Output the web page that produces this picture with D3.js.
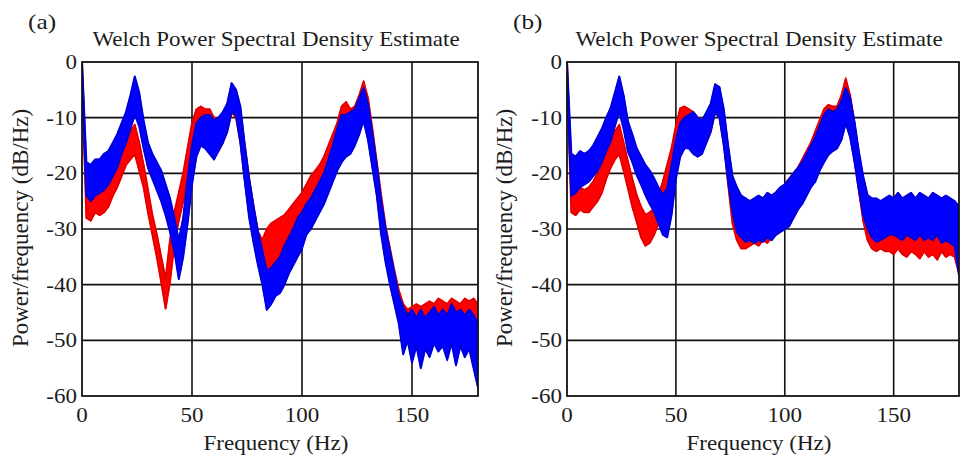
<!DOCTYPE html>
<html>
<head>
<meta charset="utf-8">
<title>Welch PSD</title>
<style>
  body { margin: 0; background: #fff; }
  text { font-family: "Liberation Serif", "Times New Roman", serif; fill: #1c1c1c; }
</style>
</head>
<body>
<div id="chart"></div>
<script src="https://d3js.org/d3.v7.min.js"></script>
<script>
// frequency bins, 2 Hz apart
const freqs = d3.range(0, 181, 2);
const xTicks = [0, 50, 100, 150];
const yTicks = [0, -10, -20, -30, -40, -50, -60];
const titleText = "Welch Power Spectral Density Estimate";

// panel (a): upper / lower edge of each bundle of traces (dB/Hz)
const aBlueHi = [0, -18, -18.5, -17.5, -17.5, -16.5, -16, -14.5, -13, -11,
  -9, -6, -2.6, -5.5, -10.5, -14.5, -16.5, -18, -19.5, -22,
  -24.5, -28, -32, -28, -21, -15, -11, -10, -9.5, -9.5,
  -10.5, -10, -9, -7.5, -3.8, -5, -8, -15, -21, -26,
  -30.5, -34, -37.5, -37, -36, -35, -33, -31.5, -30, -28,
  -27, -25.5, -24.5, -23, -21.5, -20, -17.5, -15, -12, -9.5,
  -9.5, -9, -8.5, -6.5, -4.7, -7.5, -13, -18.5, -25, -30,
  -34, -38, -42, -44, -45.5, -44.5, -46, -44.5, -46, -45,
  -44, -45.5, -44.5, -45.5, -43.5, -45, -44.5, -45.5, -44.5, -45.5,
  -47];
const aBlueLo = [-3, -24, -25, -24, -23.5, -23, -22, -20.5, -19, -16.5,
  -14.5, -12, -9.5, -11.5, -15.5, -19, -21, -23, -25, -27.5,
  -30.5, -34, -39, -35, -29, -22, -17, -15, -15.5, -16.5,
  -17.5, -16, -14.5, -12.5, -9, -9.5, -14.5, -21.5, -28, -32.5,
  -36.5, -40, -44.5, -43.5, -42, -41.5, -40, -38, -36.5, -35,
  -33.5, -31, -30, -28.5, -27, -25.5, -23.5, -21.5, -19.5, -18,
  -17, -16.5, -15, -13, -10.5, -14, -19, -24, -31, -36,
  -40, -43.5, -47, -52.5, -50, -54, -51, -55, -51.5, -53,
  -50.5, -52, -51, -53.5, -50.5, -54.5, -51, -53, -51.5, -55,
  -58.5];
const aRedHi = [0, -22, -23, -22, -22.5, -21.5, -20.5, -19, -17.5, -15.5,
  -14, -12.5, -11.3, -14.5, -18.5, -23, -27.5, -31, -35, -39,
  -32, -27, -23.5, -20, -15.5, -11, -8.5, -8, -8.5, -8.5,
  -10, -10.5, -9.5, -8, -4.5, -5, -9, -15, -21, -26,
  -30.5, -32, -30, -29, -28.5, -28, -27.5, -26.5, -25.5, -24.5,
  -23.5, -22, -20.5, -19.5, -18.5, -17, -15, -13, -11, -8,
  -7.2, -8.5, -8, -6, -3.5, -6.5, -12, -18, -24, -29.5,
  -33.5, -37.5, -41, -43.5, -44.5, -44, -43.5, -44, -43.5, -43,
  -43.5, -42.5, -43, -43.5, -42.5, -43, -43.5, -42.5, -43, -42.5,
  -43.5];
const aRedLo = [-3, -28, -28.5, -27, -27.5, -27, -26, -24, -22.5, -20.5,
  -18.5, -17.5, -16.5, -19.5, -22.5, -27, -31, -35, -39.5, -44.3,
  -39.5, -32.5, -28.5, -25, -20.5, -16, -12.5, -12, -13, -14.5,
  -15.5, -16, -14.5, -12.5, -9, -10, -14.5, -21, -27, -32,
  -36, -38.5, -39, -37, -36, -35, -34, -32.5, -31.5, -30.5,
  -29.5, -28, -26.5, -25, -24, -23, -21, -19.5, -18, -15,
  -14, -15, -14, -12, -9, -12.5, -18, -23.5, -30, -35,
  -39, -43, -46, -49, -49.5, -49, -48.5, -49, -48, -48.5,
  -49, -48, -47.5, -48.5, -49, -50.5, -49, -48.5, -51, -49,
  -50];

// panel (b)
const bBlueHi = [0, -16.5, -17, -16, -16.5, -16, -15, -13.5, -12, -10,
  -8.3, -5.5, -2.6, -6, -10.7, -13, -15.5, -17, -18.5, -19.5,
  -20.9, -22.5, -23.9, -22.7, -18.5, -14, -11, -10, -9.5, -9,
  -10, -10.5, -9, -7.5, -4, -4.5, -8.5, -15, -20.5, -22.5,
  -24, -24.5, -25, -24.5, -24, -24.5, -23.5, -24, -23.4, -22.5,
  -22, -21, -20, -19, -18, -16.5, -15, -13.5, -11.5, -9.5,
  -8.5, -9, -8.5, -7, -4.7, -6.5, -10.7, -16, -20.5, -23.9,
  -24.5, -24.5, -25, -24.5, -24, -24.5, -23.5, -24.5, -24, -23.5,
  -24.5, -23.5, -24, -24.5, -23.5, -24, -24.5, -24, -24.5, -25,
  -26];
const bBlueLo = [-3, -24, -23.5, -22.5, -22, -21.5, -20.5, -19.5, -18, -16,
  -14.3, -11.5, -8.9, -12, -16.1, -18, -20.3, -22, -23.9, -25.5,
  -26.9, -29, -31, -31.5, -27.5, -21, -17, -15.5, -15.5, -16.5,
  -17, -16.5, -14.5, -12.5, -9, -10, -15, -21.5, -27, -30.5,
  -31.5, -32.3, -32, -32.5, -32, -32.3, -31.5, -32, -31, -30.5,
  -30, -29.5, -28, -26.5, -25.5, -24, -22.5, -21.5, -19.5, -18,
  -16.7, -16, -15.5, -14, -11, -13.5, -17.9, -23, -27.5, -29.9,
  -31.5, -32.3, -32, -31.5, -31, -31, -31.5, -32, -31, -31.5,
  -32, -31, -32, -31.5, -32, -31, -32.5, -32, -32.5, -33,
  -38.3];
const bRedHi = [0, -22.5, -23, -22.5, -23, -22.5, -21.5, -20, -18.5, -16,
  -14.3, -12.5, -11.3, -14.5, -17.9, -21, -23.9, -26, -27.5, -27,
  -26.3, -24, -21.5, -18.5, -15.5, -11.5, -8.3, -8, -8.5, -9,
  -10, -10.5, -9.5, -8, -4.5, -5, -9, -16, -22, -24.5,
  -25.5, -25, -25.5, -25, -24.5, -25, -24.5, -24, -23.5, -23,
  -22, -21, -20, -19, -17.5, -16, -14.5, -12.5, -10.5, -8.5,
  -7.7, -8, -8, -6, -3, -6, -11, -17, -22, -25.5,
  -27, -27.5, -27, -27.5, -27, -27.5, -27, -27.5, -27, -27.5,
  -27, -27.5, -27, -27.5, -27, -27.5, -27, -27.5, -28, -28,
  -29];
const bRedLo = [-3, -27, -27.5, -26.5, -27, -27, -26, -25, -23.5, -21,
  -19, -17.5, -16.5, -19.5, -22.7, -26, -28.7, -31.5, -33, -32.5,
  -31, -29, -27.5, -25, -22.7, -17, -13.7, -12.5, -13.5, -14.5,
  -15.5, -16, -14.5, -12.5, -9, -10, -14.5, -22, -29, -32,
  -33.5, -33.5, -33, -32.5, -33, -32, -32.5, -31.5, -31, -30.5,
  -30, -29, -28, -26.5, -25, -23.5, -22, -20.5, -18.5, -16,
  -15, -15, -14.5, -12.5, -9.5, -12.5, -17.5, -23, -28.5, -32,
  -33.5, -34, -33.5, -34, -34, -34.5, -33.5, -34.5, -35, -34,
  -34.5, -35.3, -34, -35, -34.5, -35.5, -34, -35, -34.5, -35,
  -38];

const panels = [
  { label: "(a)", left: 82, right: 478, labelX: 28, yLabelX: 28,
    red: [aRedHi, aRedLo], blue: [aBlueHi, aBlueLo] },
  { label: "(b)", left: 567, right: 959, labelX: 513, yLabelX: 512,
    red: [bRedHi, bRedLo], blue: [bBlueHi, bBlueLo] }
];

const width = 964, height = 465;
const plotTop = 62, plotBottom = 396;
const stretch = 1.15; // the text in the figure is a little wider than normal

const svg = d3.select("#chart").append("svg")
  .attr("width", width)
  .attr("height", height);

function wideText(g, x, y, size, anchor, str) {
  return g.append("text")
    .attr("transform", `translate(${x},${y}) scale(${stretch},1)`)
    .attr("text-anchor", anchor)
    .attr("font-size", size)
    .text(str);
}

panels.forEach(p => {
  const x = d3.scaleLinear().domain([0, 180]).range([p.left, p.right]);
  const y = d3.scaleLinear().domain([-60, 0]).range([plotBottom, plotTop]);
  const g = svg.append("g");

  const clipId = "clip" + p.label.replace(/\W/g, "");
  g.append("clipPath").attr("id", clipId)
    .append("rect")
    .attr("x", p.left).attr("y", plotTop)
    .attr("width", p.right - p.left).attr("height", plotBottom - plotTop);

  // grid
  g.append("g")
    .selectAll("line")
    .data(xTicks.slice(1))
    .join("line")
    .attr("x1", d => x(d)).attr("x2", d => x(d))
    .attr("y1", plotTop).attr("y2", plotBottom)
    .attr("stroke", "#111").attr("stroke-width", 1.6);
  g.append("g")
    .selectAll("line")
    .data(yTicks.slice(1, -1))
    .join("line")
    .attr("x1", p.left).attr("x2", p.right)
    .attr("y1", d => y(d)).attr("y2", d => y(d))
    .attr("stroke", "#111").attr("stroke-width", 1.6);

  const area = d3.area()
    .x((d, i) => x(freqs[i]))
    .y0(d => y(d[1]))
    .y1(d => y(d[0]));
  const line = d3.line()
    .x((d, i) => x(freqs[i]))
    .y(d => y(d));

  const traces = g.append("g").attr("clip-path", `url(#${clipId})`);
  [[p.red, "#ff0000", "#d80000"], [p.blue, "#0000ff", "#0000c8"]].forEach(([s, fill, edge]) => {
    const pairs = s[0].map((v, i) => [v, s[1][i]]);
    traces.append("path")
      .attr("d", area(pairs))
      .attr("fill", fill)
      .attr("stroke", fill)
      .attr("stroke-width", 2)
      .attr("stroke-linejoin", "round");
    s.forEach(arr => {
      traces.append("path")
        .attr("d", line(arr))
        .attr("fill", "none")
        .attr("stroke", edge)
        .attr("stroke-width", 1.2);
    });
  });

  // box
  g.append("rect")
    .attr("x", p.left).attr("y", plotTop)
    .attr("width", p.right - p.left).attr("height", plotBottom - plotTop)
    .attr("fill", "none").attr("stroke", "#111").attr("stroke-width", 1.8);

  // tick labels
  yTicks.forEach(t => wideText(g, p.left - 5, y(t) + 7, 20, "end", t));
  xTicks.forEach(t => wideText(g, x(t), plotBottom + 26, 20, "middle", t));

  const cx = (p.left + p.right) / 2 - 4;
  wideText(g, cx, 46, 20, "middle", titleText);
  wideText(g, cx, 450, 20, "middle", "Frequency (Hz)");
  g.append("text")
    .attr("transform", `translate(${p.yLabelX},228) rotate(-90)`)
    .attr("text-anchor", "middle")
    .attr("font-size", 23)
    .text("Power/frequency (dB/Hz)");
  wideText(g, p.labelX, 29, 22, "start", p.label);
});
</script>
</body>
</html>
